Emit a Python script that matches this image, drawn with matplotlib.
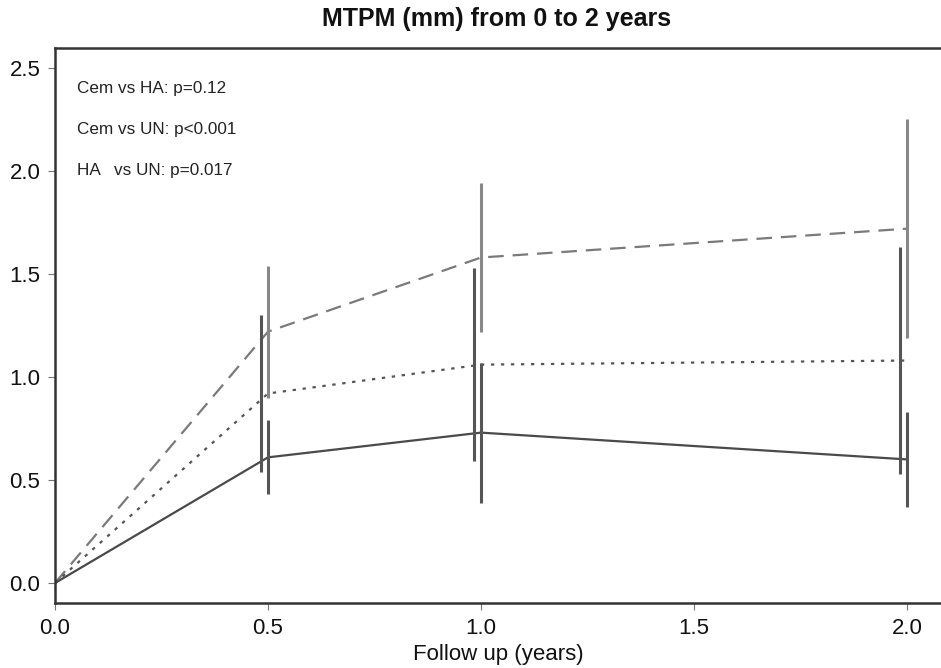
import matplotlib
matplotlib.use("Agg")
import matplotlib.pyplot as plt

# Data
years = [0.0, 0.5, 1.0, 2.0]
cem_mean = [0.0, 0.61, 0.73, 0.60]
ha_mean = [0.0, 0.92, 1.06, 1.08]
un_mean = [0.0, 1.22, 1.58, 1.72]

bar_years = [0.5, 1.0, 2.0]
cem_err = [0.18, 0.34, 0.23]
ha_err = [0.38, 0.47, 0.55]
un_err = [0.32, 0.36, 0.53]

annotations = ["Cem vs HA: p=0.12", "Cem vs UN: p<0.001", "HA   vs UN: p=0.017"]
annot_y = [2.40, 2.20, 2.00]

plt.rcParams['font.family'] = ['Liberation Sans', 'DejaVu Sans']

fig = plt.figure(figsize=(9.41, 6.68), dpi=100)
ax = fig.add_axes([55/941, 65/668, (941-55)/941, (603-48)/668])

dark = "#4a4a4a"
mid = "#555555"
light = "#7a7a7a"

ax.plot(years, un_mean, color=light, lw=1.6, linestyle=(0, (7, 4)))
ax.plot(years, ha_mean, color=mid, lw=1.6, linestyle=(0, (1.5, 3)))
ax.plot(years, cem_mean, color=dark, lw=1.6, linestyle="-")

# error bars (HA slightly offset to the left)
ha_x = [x - 0.017 for x in bar_years]
cem_b = cem_mean[1:]
ha_b = ha_mean[1:]
un_b = un_mean[1:]
ax.vlines(bar_years, [m - e for m, e in zip(un_b, un_err)],
          [m + e for m, e in zip(un_b, un_err)], color="#888888", lw=2.2)
ax.vlines(ha_x, [m - e for m, e in zip(ha_b, ha_err)],
          [m + e for m, e in zip(ha_b, ha_err)], color=mid, lw=2.2)
ax.vlines(bar_years, [m - e for m, e in zip(cem_b, cem_err)],
          [m + e for m, e in zip(cem_b, cem_err)], color=mid, lw=2.2)

for t, y in zip(annotations, annot_y):
    ax.text(0.052, y, t, fontsize=12.3, color="#222222", va="center", ha="left")

ax.set_xlim(0, 2.08)
ax.set_ylim(-0.097, 2.597)
ax.set_xticks([0.0, 0.5, 1.0, 1.5, 2.0])
ax.set_xticklabels(["0.0", "0.5", "1.0", "1.5", "2.0"])
ax.set_yticks([0.0, 0.5, 1.0, 1.5, 2.0, 2.5])
ax.set_yticklabels(["0.0", "0.5", "1.0", "1.5", "2.0", "2.5"])
ax.tick_params(axis="both", direction="out", length=5, width=0.8, color="#777777",
               labelsize=16, labelcolor="#111111", pad=5.5)

for s in ["left", "top", "bottom"]:
    ax.spines[s].set_linewidth(1.8)
    ax.spines[s].set_color("#333333")
ax.spines["right"].set_visible(False)

ax.set_xlabel("Follow up (years)", fontsize=16, color="#111111", labelpad=4)
fig.text(497/941, 1 - 19/668, "MTPM (mm) from 0 to 2 years", fontsize=18,
         fontweight="bold", ha="center", va="center", color="#111111")

fig.savefig("out.png", dpi=100)
